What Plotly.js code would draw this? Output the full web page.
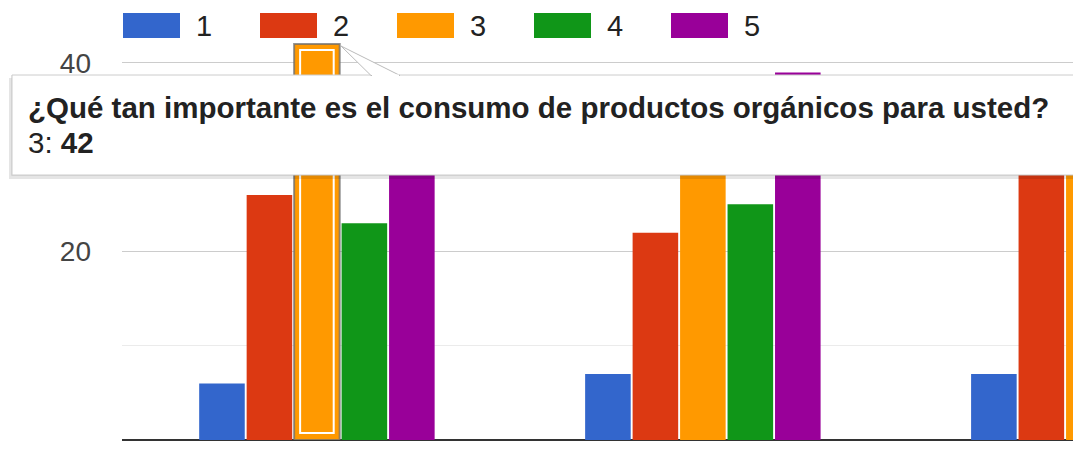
<!DOCTYPE html>
<html>
<head>
<meta charset="utf-8">
<script src="https://cdn.plot.ly/plotly-3.0.1.min.js"></script>
<style>
html,body{margin:0;padding:0;background:#fff;}
#chart{width:1073px;height:452px;}
</style>
</head>
<body>
<div id="chart"></div>
<script>
// ---- data ----
var categories = ['¿Qué tan importante es el consumo de productos orgánicos para usted?', 'Pregunta 2', 'Pregunta 3'];
var seriesNames = ['1', '2', '3', '4', '5'];
var s1 = [6, 7, 7];
var s2 = [26, 22, 30];
var s3 = [42, 35, 38];
var s4 = [23, 25, 25];
var s5 = [31, 39, 28];
var yTickVals = [0, 20, 40];
var yTickText = ['0', '20', '40'];
var yMinorVals = [10, 30];
var colors = ['#3366cc', '#dc3912', '#ff9900', '#109618', '#990099'];

var series = [s1, s2, s3, s4, s5];
var focusSeries = 2, focusCat = 0;

// ---- geometry helpers (pixel -> paper) ----
var W = 1073, H = 452, mL = 122, mR = 0, mT = 0, mB = 12;
var pw = W - mL - mR, ph = H - mT - mB;
function px(x){ return (x - mL) / pw; }
function py(y){ return (H - mB - y) / ph; }

var bargap = 0.385, bargroupgap = 0.04;
var font = 'Arial, "Liberation Sans", sans-serif';

var traces = series.map(function(vals, i){
  var lc = vals.map(function(v, j){ return (i === focusSeries && j === focusCat) ? 'rgba(110,110,110,0.75)' : 'rgba(0,0,0,0)'; });
  var lw = vals.map(function(v, j){ return (i === focusSeries && j === focusCat) ? 2 : 0; });
  return {
    type: 'bar',
    name: seriesNames[i],
    x: categories.map(function(c, k){ return k; }),
    y: vals,
    marker: {color: colors[i], line: {color: lc, width: lw}},
    hoverinfo: 'skip',
    showlegend: false
  };
});

var shapes = [];
var annotations = [];

// highlight inner white outline on the focused bar (derived from bar layout params)
var slot = (1 - bargap) / seriesNames.length;
var bw = slot * (1 - bargroupgap);
var bc = focusCat + (focusSeries - (seriesNames.length - 1) / 2) * slot;
var insetX = 6 / 386, unitPx = ph / 46.68;
shapes.push({type: 'rect', xref: 'x', yref: 'y',
  x0: bc - bw / 2 + insetX, x1: bc + bw / 2 - insetX,
  y0: 7 / unitPx, y1: series[focusSeries][focusCat] - 6 / unitPx,
  line: {color: '#ffffff', width: 2}, fillcolor: 'rgba(0,0,0,0)'});

// custom legend
seriesNames.forEach(function(n, i){
  var x0 = 123 + 137 * i;
  shapes.push({type: 'rect', xref: 'paper', yref: 'paper',
    x0: px(x0), x1: px(x0 + 57), y0: py(38), y1: py(13),
    fillcolor: colors[i], line: {width: 0}});
  annotations.push({xref: 'paper', yref: 'paper', x: px(x0 + 71), y: py(25.5),
    xanchor: 'left', yanchor: 'middle', showarrow: false, text: n,
    font: {family: font, size: 29, color: '#222222'}});
});

// tooltip shadow + box
shapes.push({type: 'rect', xref: 'paper', yref: 'paper',
  x0: px(9), x1: px(1090), y0: py(179), y1: py(78),
  fillcolor: 'rgba(0,0,0,0.10)', line: {width: 0}});
shapes.push({type: 'rect', xref: 'paper', yref: 'paper',
  x0: px(11), x1: px(1090), y0: py(176), y1: py(75),
  fillcolor: 'rgba(0,0,0,0.06)', line: {width: 0}});
shapes.push({type: 'rect', xref: 'paper', yref: 'paper',
  x0: px(12), x1: px(1085), y0: py(175), y1: py(75),
  fillcolor: '#ffffff', line: {color: '#cccccc', width: 1}});
// tooltip tail
var tail = 'M ' + px(341) + ',' + py(46) + ' L ' + px(371) + ',' + py(75.5) + ' L ' + px(400) + ',' + py(75.5) + ' Z';
shapes.push({type: 'path', xref: 'paper', yref: 'paper', path: tail,
  fillcolor: '#ffffff', line: {color: '#bbbbbb', width: 1}});
shapes.push({type: 'line', xref: 'paper', yref: 'paper',
  x0: px(372), x1: px(399), y0: py(75.5), y1: py(75.5),
  line: {color: '#ffffff', width: 2}});

annotations.push({xref: 'paper', yref: 'paper', x: px(26), y: py(107),
  xanchor: 'left', yanchor: 'middle', showarrow: false,
  text: '<b>' + categories[focusCat] + '</b>',
  font: {family: font, size: 29.5, color: '#222222'}});
annotations.push({xref: 'paper', yref: 'paper', x: px(26), y: py(142),
  xanchor: 'left', yanchor: 'middle', showarrow: false,
  text: seriesNames[focusSeries] + ': <b>' + series[focusSeries][focusCat] + '</b>',
  font: {family: font, size: 29.5, color: '#222222'}});

var layout = {
  width: W, height: H,
  margin: {l: mL, r: mR, t: mT, b: mB, pad: 0},
  paper_bgcolor: '#ffffff', plot_bgcolor: '#ffffff',
  barmode: 'group', bargap: bargap, bargroupgap: bargroupgap,
  showlegend: false,
  hovermode: false,
  xaxis: {range: [-0.505, 1.959], showticklabels: false, showgrid: false,
    zeroline: false, showline: false, ticks: '', fixedrange: true},
  yaxis: {range: [0, 46.68], tickvals: yTickVals, ticktext: yTickText,
    showgrid: true, gridcolor: '#cccccc', gridwidth: 1,
    minor: {tickvals: yMinorVals, showgrid: true, gridcolor: '#ebebeb', gridwidth: 1, ticks: ''},
    zeroline: true, zerolinecolor: '#333333', zerolinewidth: 2,
    ticks: '', ticklabelstandoff: 30, showline: false,
    tickfont: {family: font, size: 28, color: '#444444'}, fixedrange: true},
  shapes: shapes,
  annotations: annotations,
  font: {family: font}
};

Plotly.newPlot('chart', traces, layout, {staticPlot: true, displayModeBar: false});
</script>
</body>
</html>
